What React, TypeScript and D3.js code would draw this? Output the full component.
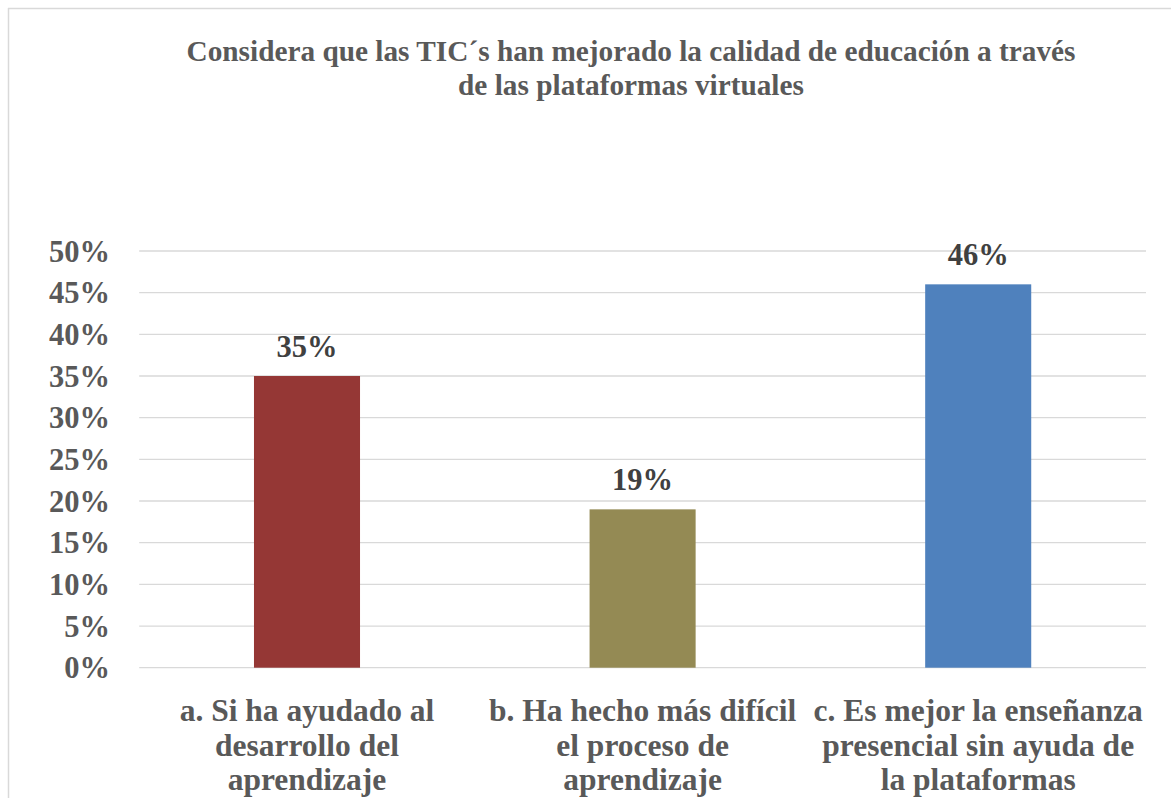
import React from "react";
import * as d3 from "d3";

const titleLines = [
  "Considera que las TIC´s han mejorado la calidad de educación a través",
  "de las plataformas virtuales",
];
const categories = [
  "a. Si ha ayudado al desarrollo del aprendizaje",
  "b. Ha hecho más difícil el proceso de aprendizaje",
  "c. Es mejor la enseñanza presencial sin ayuda de la plataformas",
];
const categoryLines = [
  ["a. Si ha ayudado al", "desarrollo del", "aprendizaje"],
  ["b. Ha hecho más difícil", "el proceso de", "aprendizaje"],
  ["c. Es mejor la enseñanza", "presencial sin ayuda de", "la plataformas"],
];
const values = [0.35, 0.19, 0.46];
const colors = ["#953735", "#948A54", "#4F81BD"];
const yTicks = [0, 0.05, 0.1, 0.15, 0.2, 0.25, 0.3, 0.35, 0.4, 0.45, 0.5];

const W = 1171;
const H = 798;
const plot = { left: 139.2, right: 1146, top: 251, bottom: 667.7 };
const FONT = "'Liberation Serif', 'Times New Roman', serif";

export default function App() {
  const x = d3
    .scaleBand<string>()
    .domain(categories)
    .range([plot.left, plot.right])
    .padding(0);
  const y = d3.scaleLinear().domain([0, 0.5]).range([plot.bottom, plot.top]);
  const barW = x.bandwidth() * 0.316;
  const fmt = d3.format(".0%");

  return (
    <svg
      width={W}
      height={H}
      style={{ position: "absolute", left: 0, top: 0, display: "block", background: "#fff" }}
    >
      <line x1={8} y1={8.5} x2={W} y2={8.5} stroke="#D9D9D9" strokeWidth={1.5} />
      <line x1={8.5} y1={8} x2={8.5} y2={H} stroke="#D9D9D9" strokeWidth={1.5} />

      {titleLines.map((t, i) => (
        <text
          key={i}
          x={631}
          y={61 + i * 34}
          textAnchor="middle"
          fontFamily={FONT}
          fontWeight="bold"
          fontSize={29.3}
          fill="#595959"
        >
          {t}
        </text>
      ))}

      {yTicks.map((t) => (
        <g key={t}>
          <line
            x1={plot.left}
            x2={plot.right}
            y1={y(t)}
            y2={y(t)}
            stroke="#D9D9D9"
            strokeWidth={1.3}
          />
          <text
            x={110}
            y={y(t) + 10.5}
            textAnchor="end"
            fontFamily={FONT}
            fontWeight="bold"
            fontSize={30.5}
            fill="#595959"
          >
            {fmt(t)}
          </text>
        </g>
      ))}

      {categories.map((c, i) => {
        const cx = (x(c) as number) + x.bandwidth() / 2;
        return (
          <g key={c}>
            <rect
              x={cx - barW / 2}
              y={y(values[i])}
              width={barW}
              height={y(0) - y(values[i])}
              fill={colors[i]}
            />
            <text
              x={cx}
              y={y(values[i]) - 19}
              textAnchor="middle"
              fontFamily={FONT}
              fontWeight="bold"
              fontSize={30.5}
              fill="#404040"
            >
              {fmt(values[i])}
            </text>
            {categoryLines[i].map((ln, j) => (
              <text
                key={j}
                x={cx}
                y={721 + j * 34.5}
                textAnchor="middle"
                fontFamily={FONT}
                fontWeight="bold"
                fontSize={31.5}
                fill="#595959"
              >
                {ln}
              </text>
            ))}
          </g>
        );
      })}
    </svg>
  );
}
